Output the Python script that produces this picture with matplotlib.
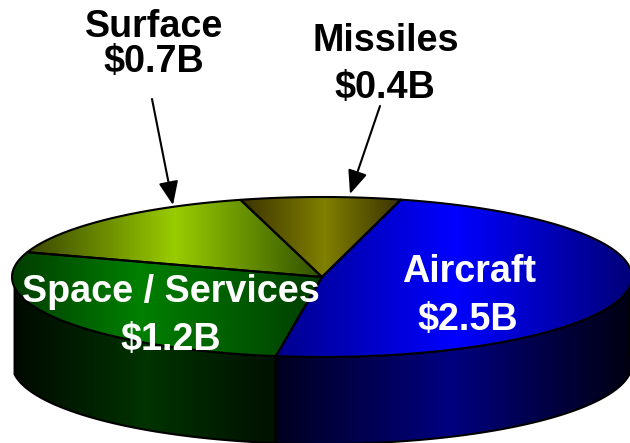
import numpy as np
import matplotlib
matplotlib.use("Agg")
import matplotlib.pyplot as plt
from matplotlib.colors import to_rgb
from matplotlib.patches import Polygon

plt.rcParams['font.family'] = ['Liberation Sans', 'DejaVu Sans']

# Budget split
segments = ["Missiles", "Surface", "Space / Services", "Aircraft"]
values = [0.4, 0.7, 1.2, 2.5]

# Left edge, brightest and right edge colours of each top face
top_colors = [
    ("#3a3200", "#808000", "#3a3200"),
    ("#3a4600", "#99cc00", "#325000"),
    ("#003c00", "#008000", "#003c00"),
    ("#00008c", "#0000ff", "#000078"),
]
top_peaks = [325, 175, 140, 455]
wall_colors = {
    "Space / Services": ("#000a00", "#003300", "#001000"),
    "Aircraft": ("#000020", "#000080", "#000010"),
}
wall_peaks = {"Space / Services": 145, "Aircraft": 450}

# Pie geometry in pixels
cx, cy = 322, 277
rx, ry = 310, 80
depth = 87
start_angle = 75


def view_angle(theta):
    # camera tilt opens up the front of the disc
    return theta + 7.25 * (1 - np.sin(np.radians(theta)))


def rim(theta, drop=0):
    a = np.radians(view_angle(theta))
    return np.column_stack([cx + rx * np.cos(a), cy - ry * np.sin(a) + drop])


def fill_gradient(ax, patch, colors, peak, zorder):
    # horizontal three colour ramp clipped to the patch
    verts = patch.get_xy()
    x0, x1 = verts[:, 0].min(), verts[:, 0].max()
    y0, y1 = verts[:, 1].min(), verts[:, 1].max()
    xs = np.linspace(x0, x1, 400)
    stops = np.array([to_rgb(c) for c in colors])
    ramp = np.stack([np.interp(xs, [x0, peak, x1], stops[:, i]) for i in range(3)], axis=-1)
    im = ax.imshow(ramp[np.newaxis, :, :], extent=(x0, x1, y1, y0), aspect="auto",
                   interpolation="bilinear", zorder=zorder)
    im.set_clip_path(patch)


fig = plt.figure(figsize=(6.3, 4.43), dpi=100)
ax = fig.add_axes([0, 0, 1, 1])

fractions = np.array(values) / sum(values) * 360
edges = start_angle + np.concatenate([[0], np.cumsum(fractions)])

for i, name in enumerate(segments):
    t = np.linspace(edges[i], edges[i + 1], 160)

    # outer wall, only the part of the rim facing the viewer
    if name in wall_colors:
        front = t[(t >= 180) & (t <= 360) | (t >= 540)]
        top_edge = rim(front)
        low_edge = rim(front[::-1], depth)
        wall = Polygon(np.vstack([top_edge, low_edge]), closed=True, fc="none",
                       ec="black", lw=1.5, zorder=3)
        ax.add_patch(wall)
        fill_gradient(ax, wall, wall_colors[name], wall_peaks[name], 2)

    # top face
    wedge = Polygon(np.vstack([[cx, cy], rim(t)]), closed=True, fc="none",
                    ec="black", lw=1.5, zorder=5)
    ax.add_patch(wedge)
    fill_gradient(ax, wedge, top_colors[i], top_peaks[i], 4)

# Labels
txt = dict(fontsize=27.2, fontweight="bold", ha="center", va="baseline", zorder=7)
ax.text(154, 37, segments[1], color="black", **txt)
ax.text(154, 72, f"${values[1]}B", color="black", **txt)
ax.text(386, 51, segments[0], color="black", **txt)
ax.text(385, 98, f"${values[0]}B", color="black", **txt)
ax.text(171, 302, segments[2], color="white", **txt)
ax.text(171, 350, f"${values[2]}B", color="white", **txt)
ax.text(469, 282, segments[3], color="white", **txt)
ax.text(468, 330, f"${values[3]}B", color="white", **txt)

# Callout arrows for the two small slices
arrow = dict(arrowstyle="-|>,head_length=0.72,head_width=0.3", color="black", lw=1.5,
             mutation_scale=20, shrinkA=0, shrinkB=0)
ax.annotate("", xy=(173, 205), xytext=(152, 99), arrowprops=arrow, zorder=8)
ax.annotate("", xy=(350, 194), xytext=(380, 106), arrowprops=arrow, zorder=8)

ax.set_xlim(0, 630)
ax.set_ylim(443, 0)
ax.axis("off")

fig.savefig("out.png", dpi=100, facecolor="white")
